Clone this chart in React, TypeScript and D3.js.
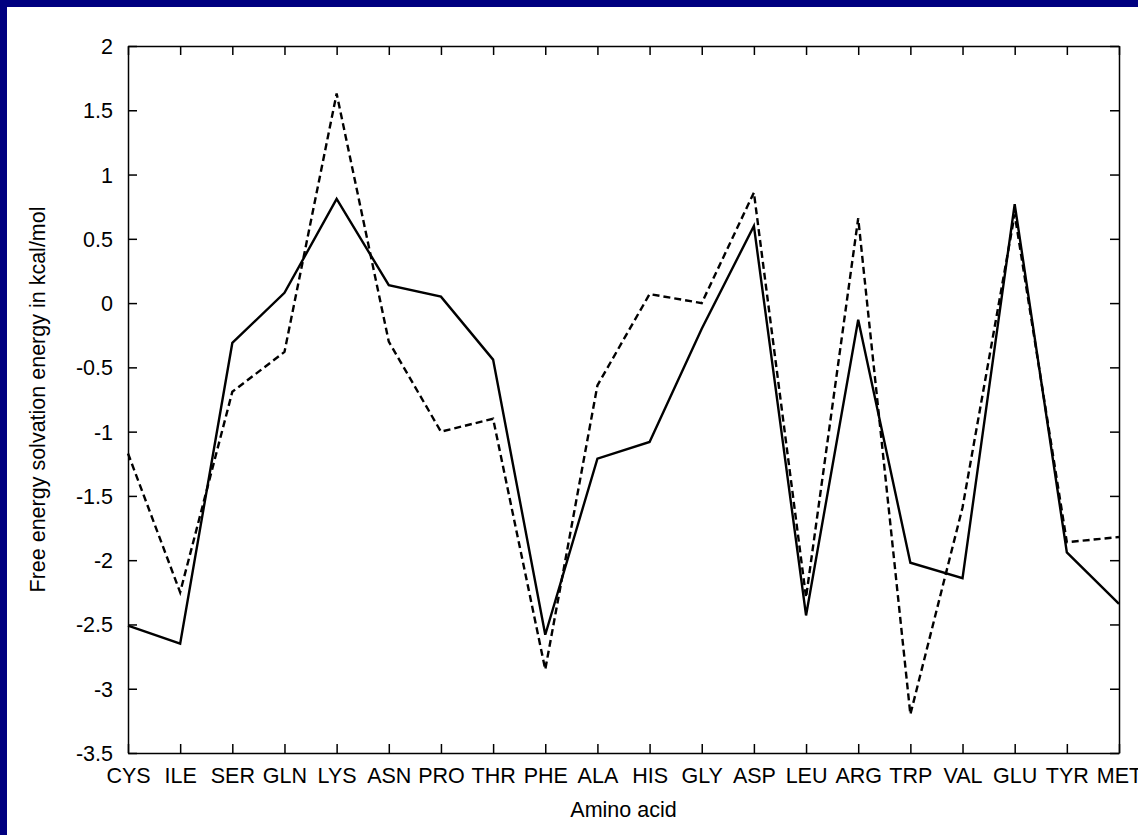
import React, { useRef, useEffect } from 'react';
import * as d3 from 'd3';

// amino acids along the x axis
const aminoAcids = ['CYS', 'ILE', 'SER', 'GLN', 'LYS', 'ASN', 'PRO', 'THR', 'PHE', 'ALA',
  'HIS', 'GLY', 'ASP', 'LEU', 'ARG', 'TRP', 'VAL', 'GLU', 'TYR', 'MET'];

// solid series
const solidValues = [-2.51, -2.65, -0.31, 0.08, 0.81, 0.14, 0.05, -0.44, -2.58, -1.21,
  -1.08, -0.2, 0.6, -2.43, -0.13, -2.02, -2.14, 0.77, -1.94, -2.34];

// dashed series
const dashedValues = [-1.17, -2.25, -0.69, -0.38, 1.63, -0.3, -1.0, -0.9, -2.85, -0.64,
  0.07, 0.0, 0.86, -2.29, 0.66, -3.2, -1.59, 0.69, -1.86, -1.82];

const yTicks = [2, 1.5, 1, 0.5, 0, -0.5, -1, -1.5, -2, -2.5, -3, -3.5];

const W = 1138;
const H = 835;
const FONT = '"Liberation Sans", Arial, Helvetica, sans-serif';
const FS = 21.5;

const App = () => {
  const ref = useRef<SVGSVGElement | null>(null);

  useEffect(() => {
    if (!ref.current) return;
    const svg = d3.select(ref.current);
    svg.selectAll('*').remove();

    const margin = { top: 46, right: 19, bottom: 82, left: 128 };
    const width = W - margin.left - margin.right;
    const height = H - margin.top - margin.bottom;

    // white page with the navy frame (only top/left edges visible)
    svg.append('rect').attr('width', W).attr('height', H).attr('fill', '#ffffff');
    svg.append('rect').attr('x', 0).attr('y', 0).attr('width', W).attr('height', 7).attr('fill', '#000080');
    svg.append('rect').attr('x', 0).attr('y', 0).attr('width', 7).attr('height', H).attr('fill', '#000080');

    const g = svg.append('g').attr('transform', `translate(${margin.left},${margin.top})`);

    const x = d3.scalePoint<string>().domain(aminoAcids).range([0, width]);
    const y = d3.scaleLinear().domain([-3.5, 2]).range([height, 0]);

    const styleAxis = (sel: any) => {
      sel.attr('font-family', FONT).attr('font-size', FS);
      sel.select('.domain').attr('stroke', '#000').attr('stroke-width', 1.5);
      sel.selectAll('.tick line').attr('stroke', '#000').attr('stroke-width', 1.5);
      sel.selectAll('.tick text').attr('fill', '#000');
    };

    g.append('g')
      .attr('transform', `translate(0,${height})`)
      .call(d3.axisBottom(x).tickSizeInner(-9).tickSizeOuter(0).tickPadding(15))
      .call(styleAxis);

    g.append('g')
      .call(d3.axisLeft(y).tickValues(yTicks).tickFormat(d => String(d)).tickSizeInner(-9).tickSizeOuter(0).tickPadding(15))
      .call(styleAxis)
      .selectAll('.tick text')
      .attr('dy', '0.35em');

    g.append('g')
      .call(d3.axisTop(x).tickSizeInner(-9).tickSizeOuter(0).tickFormat(() => ''))
      .call(styleAxis);

    g.append('g')
      .attr('transform', `translate(${width},0)`)
      .call(d3.axisRight(y).tickValues(yTicks).tickSizeInner(-9).tickSizeOuter(0).tickFormat(() => ''))
      .call(styleAxis);

    const line = d3.line<number>()
      .x((_, i) => x(aminoAcids[i]) as number)
      .y(d => y(d));

    g.append('path')
      .datum(dashedValues)
      .attr('fill', 'none')
      .attr('stroke', '#000')
      .attr('stroke-width', 2.4)
      .attr('stroke-dasharray', '7,4')
      .attr('d', line);

    g.append('path')
      .datum(solidValues)
      .attr('fill', 'none')
      .attr('stroke', '#000')
      .attr('stroke-width', 2.4)
      .attr('d', line);

    // axis titles
    g.append('text')
      .attr('x', width / 2)
      .attr('y', height + 64)
      .attr('text-anchor', 'middle')
      .attr('font-family', FONT)
      .attr('font-size', FS)
      .attr('fill', '#000')
      .text('Amino acid');

    g.append('text')
      .attr('transform', `translate(${45 - margin.left},${height / 2}) rotate(-90)`)
      .attr('text-anchor', 'middle')
      .attr('font-family', FONT)
      .attr('font-size', FS)
      .attr('fill', '#000')
      .text('Free energy solvation energy in kcal/mol');
  }, []);

  return (
    <div style={{ position: 'absolute', left: 0, top: 0, width: W, height: H }}>
      <svg ref={ref} width={W} height={H} style={{ display: 'block' }} />
    </div>
  );
};

export default App;
